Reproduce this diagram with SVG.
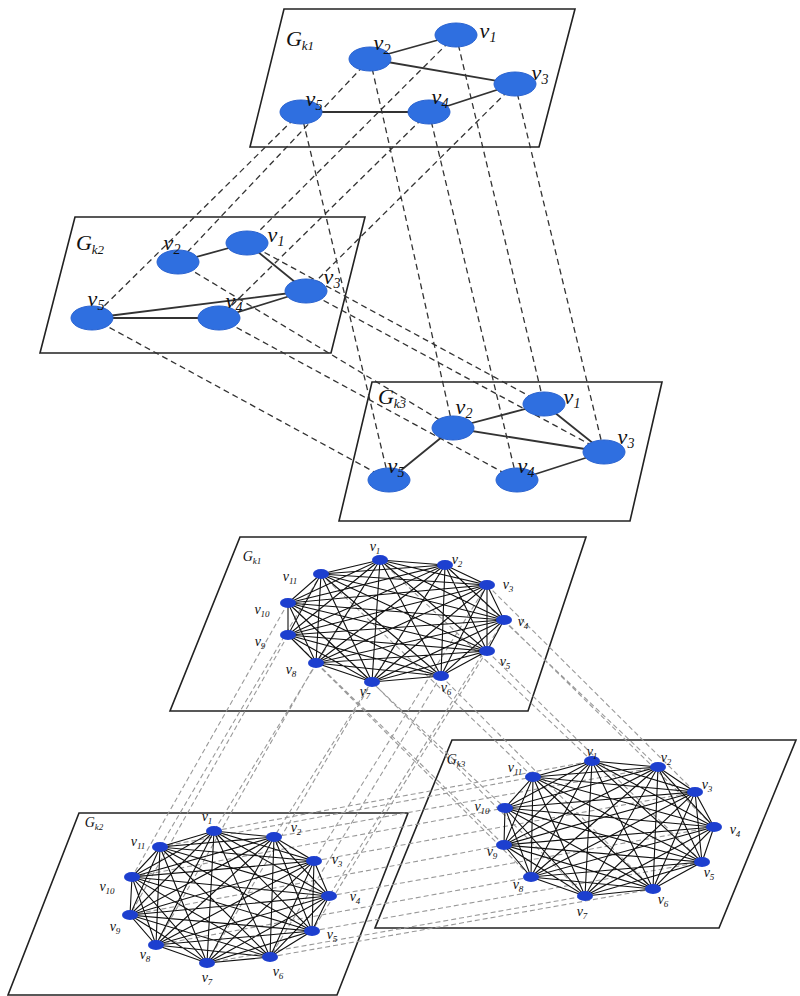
<svg xmlns="http://www.w3.org/2000/svg" width="800" height="996" viewBox="0 0 800 996">
<style>
.pl{fill:#fff;stroke:#222;stroke-width:1.6}
.n{fill:#2f6fe0;stroke:#2a63d0;stroke-width:1}
.s{fill:#1d3fcf}
.e{stroke:#333;stroke-width:1.8;fill:none}
.ke{stroke:#111;stroke-width:1.1;fill:none}
.d{stroke:#333;stroke-width:1.3;stroke-dasharray:6 4;fill:none}
.gd{stroke:#999;stroke-width:1.1;stroke-dasharray:5 3;fill:none}
.L{font-family:"Liberation Serif",serif;font-style:italic;font-size:22px;fill:#111;text-anchor:middle}
.l{font-family:"Liberation Serif",serif;font-style:italic;font-size:14px;fill:#111;text-anchor:middle}
</style>
<rect width="800" height="996" fill="#fff"/>
<polygon class="pl" points="284,9 575,9 539,147 250,147"/>
<polygon class="pl" points="75,217 365,217 331,353 40,353"/>
<polygon class="pl" points="372,382 662,382 630,521 339,521"/>
<polygon class="pl" points="240,537 586,537 528,711 170,711"/>
<polygon class="pl" points="452,740 796,740 719,928 375,928"/>
<polygon class="pl" points="79,813 408,813 337,995 8,995"/>
<g id="connectors">
<path class="d" d="M456,35L247,243 M370,59L178,262 M515,84L306,291 M429,112L219,318 M301,112L92,318 M456,35L544,404 M370,59L453,428 M515,84L604,452 M429,112L517,480 M301,112L389,480 M247,243L544,404 M178,262L453,428 M306,291L604,452 M219,318L517,480 M92,318L389,480"/>
<path class="e" d="M370,59L456,35 M370,59L515,84 M301,112L429,112 M429,112L515,84"/>
<path class="e" d="M178,262L247,243 M247,243L306,291 M92,318L306,291 M92,318L219,318 M219,318L306,291"/>
<path class="e" d="M453,428L544,404 M544,404L604,452 M453,428L604,452 M453,428L389,480 M517,480L604,452"/>
<path class="gd" d="M380,560L214,831 M445,565L274,837 M487,585L314,861 M504,620L329,896 M487,651L312,931 M441,676L270,957 M372,682L207,963 M316,663L156,945 M288,635L130,915 M288,603L132,877 M321,574L160,847"/>
<path class="gd" d="M380,560L592,761 M445,565L658,767 M487,585L695,792 M504,620L714,827 M487,651L702,862 M441,676L653,889 M372,682L585,896 M316,663L531,877 M288,635L504,845 M288,603L505,808 M321,574L533,777"/>
<path class="gd" d="M214,831L592,761 M274,837L658,767 M314,861L695,792 M329,896L714,827 M312,931L702,862 M270,957L653,889 M207,963L585,896 M156,945L531,877 M130,915L504,845 M132,877L505,808 M160,847L533,777"/>
<polygon class="ke" points="380,560 445,565 487,585 504,620 487,651 441,676 372,682 316,663 288,635 288,603 321,574"/>
<polygon class="ke" points="380,560 487,585 487,651 372,682 288,635 321,574 445,565 504,620 441,676 316,663 288,603"/>
<polygon class="ke" points="380,560 504,620 372,682 288,603 445,565 487,651 316,663 321,574 487,585 441,676 288,635"/>
<polygon class="ke" points="380,560 487,651 288,635 445,565 441,676 288,603 487,585 372,682 321,574 504,620 316,663"/>
<polygon class="ke" points="380,560 441,676 321,574 487,651 288,603 504,620 288,635 487,585 316,663 445,565 372,682"/>
<polygon class="ke" points="592,761 658,767 695,792 714,827 702,862 653,889 585,896 531,877 504,845 505,808 533,777"/>
<polygon class="ke" points="592,761 695,792 702,862 585,896 504,845 533,777 658,767 714,827 653,889 531,877 505,808"/>
<polygon class="ke" points="592,761 714,827 585,896 505,808 658,767 702,862 531,877 533,777 695,792 653,889 504,845"/>
<polygon class="ke" points="592,761 702,862 504,845 658,767 653,889 505,808 695,792 585,896 533,777 714,827 531,877"/>
<polygon class="ke" points="592,761 653,889 533,777 702,862 505,808 714,827 504,845 695,792 531,877 658,767 585,896"/>
<polygon class="ke" points="214,831 274,837 314,861 329,896 312,931 270,957 207,963 156,945 130,915 132,877 160,847"/>
<polygon class="ke" points="214,831 314,861 312,931 207,963 130,915 160,847 274,837 329,896 270,957 156,945 132,877"/>
<polygon class="ke" points="214,831 329,896 207,963 132,877 274,837 312,931 156,945 160,847 314,861 270,957 130,915"/>
<polygon class="ke" points="214,831 312,931 130,915 274,837 270,957 132,877 314,861 207,963 160,847 329,896 156,945"/>
<polygon class="ke" points="214,831 270,957 160,847 312,931 132,877 329,896 130,915 314,861 156,945 274,837 207,963"/>
</g>
<g id="top-k1">
<ellipse class="n" cx="456" cy="35" rx="21" ry="12"/><ellipse class="n" cx="370" cy="59" rx="21" ry="12"/><ellipse class="n" cx="515" cy="84" rx="21" ry="12"/><ellipse class="n" cx="429" cy="112" rx="21" ry="12"/><ellipse class="n" cx="301" cy="112" rx="21" ry="12"/>
<text class="L" x="300" y="46">G<tspan font-size="13" dy="4">k1</tspan></text>
<text class="L" x="488" y="38">v<tspan font-size="14" dy="4">1</tspan></text>
<text class="L" x="382" y="50">v<tspan font-size="14" dy="4">2</tspan></text>
<text class="L" x="540" y="80">v<tspan font-size="14" dy="4">3</tspan></text>
<text class="L" x="440" y="104">v<tspan font-size="14" dy="4">4</tspan></text>
<text class="L" x="314" y="106">v<tspan font-size="14" dy="4">5</tspan></text>
</g>
<g id="top-k2">
<ellipse class="n" cx="247" cy="243" rx="21" ry="12"/><ellipse class="n" cx="178" cy="262" rx="21" ry="12"/><ellipse class="n" cx="306" cy="291" rx="21" ry="12"/><ellipse class="n" cx="219" cy="318" rx="21" ry="12"/><ellipse class="n" cx="92" cy="318" rx="21" ry="12"/>
<text class="L" x="90" y="250">G<tspan font-size="13" dy="4">k2</tspan></text>
<text class="L" x="276" y="242">v<tspan font-size="14" dy="4">1</tspan></text>
<text class="L" x="172" y="250">v<tspan font-size="14" dy="4">2</tspan></text>
<text class="L" x="332" y="284">v<tspan font-size="14" dy="4">3</tspan></text>
<text class="L" x="234" y="308">v<tspan font-size="14" dy="4">4</tspan></text>
<text class="L" x="96" y="306">v<tspan font-size="14" dy="4">5</tspan></text>
</g>
<g id="top-k3">
<ellipse class="n" cx="544" cy="404" rx="21" ry="12"/><ellipse class="n" cx="453" cy="428" rx="21" ry="12"/><ellipse class="n" cx="604" cy="452" rx="21" ry="12"/><ellipse class="n" cx="517" cy="480" rx="21" ry="12"/><ellipse class="n" cx="389" cy="480" rx="21" ry="12"/>
<text class="L" x="392" y="404">G<tspan font-size="13" dy="4">k3</tspan></text>
<text class="L" x="572" y="404">v<tspan font-size="14" dy="4">1</tspan></text>
<text class="L" x="464" y="414">v<tspan font-size="14" dy="4">2</tspan></text>
<text class="L" x="626" y="444">v<tspan font-size="14" dy="4">3</tspan></text>
<text class="L" x="526" y="473">v<tspan font-size="14" dy="4">4</tspan></text>
<text class="L" x="396" y="473">v<tspan font-size="14" dy="4">5</tspan></text>
</g>
<g id="bottom-k1">
<g class="s"><ellipse cx="380" cy="560" rx="8" ry="5"/><ellipse cx="445" cy="565" rx="8" ry="5"/><ellipse cx="487" cy="585" rx="8" ry="5"/><ellipse cx="504" cy="620" rx="8" ry="5"/><ellipse cx="487" cy="651" rx="8" ry="5"/><ellipse cx="441" cy="676" rx="8" ry="5"/><ellipse cx="372" cy="682" rx="8" ry="5"/><ellipse cx="316" cy="663" rx="8" ry="5"/><ellipse cx="288" cy="635" rx="8" ry="5"/><ellipse cx="288" cy="603" rx="8" ry="5"/><ellipse cx="321" cy="574" rx="8" ry="5"/></g>
<text class="l" x="252" y="561">G<tspan font-size="9" dy="3">k1</tspan></text>
<text class="l" x="375" y="551">v<tspan font-size="9" dy="3">1</tspan></text>
<text class="l" x="457" y="564">v<tspan font-size="9" dy="3">2</tspan></text>
<text class="l" x="508" y="589">v<tspan font-size="9" dy="3">3</tspan></text>
<text class="l" x="523" y="626">v<tspan font-size="9" dy="3">4</tspan></text>
<text class="l" x="505" y="666">v<tspan font-size="9" dy="3">5</tspan></text>
<text class="l" x="446" y="692">v<tspan font-size="9" dy="3">6</tspan></text>
<text class="l" x="365" y="696">v<tspan font-size="9" dy="3">7</tspan></text>
<text class="l" x="291" y="674">v<tspan font-size="9" dy="3">8</tspan></text>
<text class="l" x="260" y="646">v<tspan font-size="9" dy="3">9</tspan></text>
<text class="l" x="262" y="614">v<tspan font-size="9" dy="3">10</tspan></text>
<text class="l" x="290" y="581">v<tspan font-size="9" dy="3">11</tspan></text>
</g>
<g id="bottom-k3">
<g class="s"><ellipse cx="592" cy="761" rx="8" ry="5"/><ellipse cx="658" cy="767" rx="8" ry="5"/><ellipse cx="695" cy="792" rx="8" ry="5"/><ellipse cx="714" cy="827" rx="8" ry="5"/><ellipse cx="702" cy="862" rx="8" ry="5"/><ellipse cx="653" cy="889" rx="8" ry="5"/><ellipse cx="585" cy="896" rx="8" ry="5"/><ellipse cx="531" cy="877" rx="8" ry="5"/><ellipse cx="504" cy="845" rx="8" ry="5"/><ellipse cx="505" cy="808" rx="8" ry="5"/><ellipse cx="533" cy="777" rx="8" ry="5"/></g>
<text class="l" x="456" y="764">G<tspan font-size="9" dy="3">k3</tspan></text>
<text class="l" x="592" y="756">v<tspan font-size="9" dy="3">1</tspan></text>
<text class="l" x="666" y="762">v<tspan font-size="9" dy="3">2</tspan></text>
<text class="l" x="707" y="789">v<tspan font-size="9" dy="3">3</tspan></text>
<text class="l" x="735" y="834">v<tspan font-size="9" dy="3">4</tspan></text>
<text class="l" x="709" y="877">v<tspan font-size="9" dy="3">5</tspan></text>
<text class="l" x="663" y="904">v<tspan font-size="9" dy="3">6</tspan></text>
<text class="l" x="582" y="916">v<tspan font-size="9" dy="3">7</tspan></text>
<text class="l" x="518" y="889">v<tspan font-size="9" dy="3">8</tspan></text>
<text class="l" x="492" y="856">v<tspan font-size="9" dy="3">9</tspan></text>
<text class="l" x="482" y="811">v<tspan font-size="9" dy="3">10</tspan></text>
<text class="l" x="515" y="772">v<tspan font-size="9" dy="3">11</tspan></text>
</g>
<g id="bottom-k2">
<g class="s"><ellipse cx="214" cy="831" rx="8" ry="5"/><ellipse cx="274" cy="837" rx="8" ry="5"/><ellipse cx="314" cy="861" rx="8" ry="5"/><ellipse cx="329" cy="896" rx="8" ry="5"/><ellipse cx="312" cy="931" rx="8" ry="5"/><ellipse cx="270" cy="957" rx="8" ry="5"/><ellipse cx="207" cy="963" rx="8" ry="5"/><ellipse cx="156" cy="945" rx="8" ry="5"/><ellipse cx="130" cy="915" rx="8" ry="5"/><ellipse cx="132" cy="877" rx="8" ry="5"/><ellipse cx="160" cy="847" rx="8" ry="5"/></g>
<text class="l" x="94" y="827">G<tspan font-size="9" dy="3">k2</tspan></text>
<text class="l" x="207" y="821">v<tspan font-size="9" dy="3">1</tspan></text>
<text class="l" x="296" y="832">v<tspan font-size="9" dy="3">2</tspan></text>
<text class="l" x="337" y="864">v<tspan font-size="9" dy="3">3</tspan></text>
<text class="l" x="355" y="901">v<tspan font-size="9" dy="3">4</tspan></text>
<text class="l" x="332" y="939">v<tspan font-size="9" dy="3">5</tspan></text>
<text class="l" x="278" y="976">v<tspan font-size="9" dy="3">6</tspan></text>
<text class="l" x="207" y="982">v<tspan font-size="9" dy="3">7</tspan></text>
<text class="l" x="145" y="959">v<tspan font-size="9" dy="3">8</tspan></text>
<text class="l" x="115" y="931">v<tspan font-size="9" dy="3">9</tspan></text>
<text class="l" x="107" y="891">v<tspan font-size="9" dy="3">10</tspan></text>
<text class="l" x="138" y="846">v<tspan font-size="9" dy="3">11</tspan></text>
</g>
</svg>
